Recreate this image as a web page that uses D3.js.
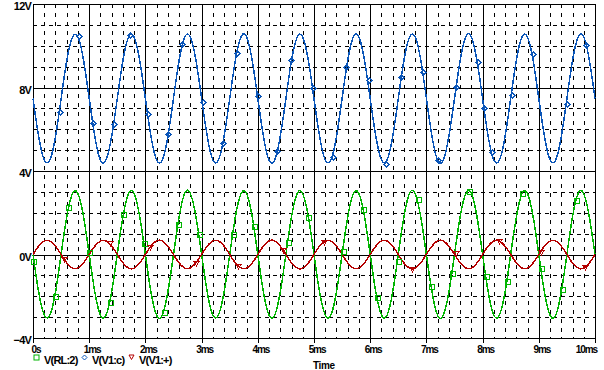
<!DOCTYPE html>
<html>
<head>
<meta charset="utf-8">
<script src="https://cdn.jsdelivr.net/npm/d3@7"></script>
<style>
  html, body { margin: 0; padding: 0; background: #fff; }
  svg { display: block; }
  text { font-family: "Liberation Sans", Arial, sans-serif; font-weight: bold; fill: #000; }
</style>
</head>
<body>
<svg id="chart" width="604" height="370"></svg>
<script>
// sample step of the traces, ms
const step = 1 / 12;

// V(RL:2), volts, one row per ms
const vRL2 = [
  0.00, -1.52, -2.63, -3.04, -2.65, -1.54, 0.01, 1.53, 2.64, 3.06, 2.65, 1.53,
  0.00, -1.53, -2.64, -3.05, -2.64, -1.52, 0.02, 1.54, 2.65, 3.07, 2.64, 1.52,
  -0.01, -1.54, -2.65, -3.06, -2.63, -1.53, 0.00, 1.53, 2.66, 3.08, 2.65, 1.53,
  0.01, -1.52, -2.64, -3.04, -2.64, -1.54, -0.01, 1.52, 2.64, 3.06, 2.66, 1.54,
  0.00, -1.53, -2.65, -3.05, -2.65, -1.53, 0.01, 1.54, 2.65, 3.07, 2.64, 1.53,
  0.00, -1.54, -2.64, -3.06, -2.64, -1.52, 0.00, 1.53, 2.65, 3.06, 2.65, 1.52,
  0.01, -1.53, -2.63, -3.05, -2.65, -1.53, 0.01, 1.54, 2.66, 3.08, 2.64, 1.53,
  -0.01, -1.52, -2.65, -3.06, -2.64, -1.54, 0.00, 1.53, 2.65, 3.07, 2.66, 1.54,
  0.00, -1.54, -2.64, -3.05, -2.63, -1.53, 0.01, 1.52, 2.64, 3.06, 2.65, 1.53,
  0.01, -1.53, -2.65, -3.06, -2.65, -1.52, 0.00, 1.54, 2.66, 3.07, 2.64, 1.52,
  0.00
];

// V(V1:c)
const vV1c = [
  7.47, 5.94, 4.80, 4.39, 4.79, 5.92, 7.46, 9.01, 10.14, 10.55, 10.16, 9.03,
  7.48, 5.93, 4.78, 4.37, 4.80, 5.94, 7.47, 9.02, 10.15, 10.57, 10.14, 9.01,
  7.46, 5.92, 4.79, 4.38, 4.78, 5.93, 7.48, 9.03, 10.16, 10.56, 10.15, 9.02,
  7.47, 5.94, 4.80, 4.38, 4.79, 5.92, 7.46, 9.01, 10.15, 10.58, 10.16, 9.03,
  7.48, 5.93, 4.78, 4.37, 4.80, 5.94, 7.47, 9.02, 10.14, 10.56, 10.15, 9.02,
  7.46, 5.92, 4.79, 4.39, 4.79, 5.93, 7.48, 9.03, 10.16, 10.57, 10.14, 9.01,
  7.47, 5.94, 4.80, 4.38, 4.78, 5.92, 7.47, 9.02, 10.15, 10.56, 10.16, 9.03,
  7.48, 5.93, 4.78, 4.37, 4.80, 5.94, 7.46, 9.01, 10.14, 10.58, 10.15, 9.02,
  7.46, 5.92, 4.79, 4.38, 4.79, 5.93, 7.48, 9.03, 10.16, 10.56, 10.14, 9.01,
  7.47, 5.94, 4.80, 4.39, 4.78, 5.92, 7.47, 9.02, 10.15, 10.57, 10.16, 9.03,
  7.47
];

// V(V1:+)
const vV1p = [
  0.00, 0.34, 0.59, 0.68, 0.59, 0.34, 0.00, -0.34, -0.59, -0.68, -0.59, -0.34,
  0.00, 0.34, 0.58, 0.68, 0.59, 0.34, 0.01, -0.34, -0.59, -0.69, -0.59, -0.34,
  0.00, 0.35, 0.59, 0.69, 0.58, 0.34, 0.00, -0.35, -0.59, -0.68, -0.58, -0.34,
  0.01, 0.34, 0.59, 0.68, 0.59, 0.35, 0.00, -0.34, -0.58, -0.68, -0.59, -0.35,
  0.00, 0.34, 0.59, 0.69, 0.59, 0.34, 0.00, -0.34, -0.59, -0.69, -0.59, -0.34,
  0.00, 0.35, 0.58, 0.68, 0.58, 0.34, 0.01, -0.34, -0.59, -0.68, -0.58, -0.34,
  0.00, 0.34, 0.59, 0.68, 0.59, 0.35, 0.00, -0.35, -0.59, -0.69, -0.59, -0.34,
  0.01, 0.34, 0.59, 0.69, 0.59, 0.34, 0.00, -0.34, -0.58, -0.68, -0.59, -0.35,
  0.00, 0.35, 0.59, 0.68, 0.58, 0.34, 0.00, -0.34, -0.59, -0.68, -0.59, -0.34,
  0.00, 0.34, 0.58, 0.68, 0.59, 0.34, 0.01, -0.35, -0.59, -0.69, -0.58, -0.34,
  0.00
];

// marker points [ms, V] as they sit on the traces
const markRL2 = [[0, -0.31], [0.39, -1.99], [0.62, 2.28], [1.0, 0.12], [1.37, -2.28], [1.6, 1.94],
  [1.98, 0.55], [2.33, -2.75], [2.58, 1.46], [2.95, 0.98], [3.56, 0.98], [3.93, 1.37], [4.54, 0.6],
  [4.89, 1.8], [5.52, 0.17], [5.87, 2.18], [6.12, -2.04], [6.49, -0.31], [6.85, 2.66], [7.08, -1.51],
  [7.46, -0.89], [7.76, 3.04], [8.06, -1.03], [8.43, -1.27], [8.7, 2.95], [9.04, -0.65], [9.41, -1.65],
  [9.66, 2.61]];
const markV1c = [[0.48, 6.83], [0.82, 10.47], [1.07, 6.3], [1.44, 6.25], [1.73, 10.51], [2.05, 6.73],
  [2.4, 5.77], [2.65, 10.08], [3.02, 7.31], [3.38, 5.34], [3.63, 9.65], [4.0, 7.59], [4.34, 4.96],
  [4.59, 9.32], [4.98, 7.98], [5.34, 4.67], [5.57, 8.98], [5.98, 8.36], [6.28, 4.34], [6.55, 8.5],
  [6.94, 8.74], [7.21, 4.53], [7.53, 8.02], [7.92, 9.22], [8.02, 7.02], [8.17, 4.91], [8.52, 7.64],
  [8.9, 9.6], [9.5, 7.21], [9.84, 10.04]];
const markV1p = [[0.55, -0.22], [1.37, 0.55], [2.08, 0.36], [2.9, -0.41], [3.65, -0.55], [4.45, 0.22],
  [5.18, 0.6], [6.74, -0.69], [7.53, 0.07], [8.29, 0.65], [9.04, 0.12], [9.82, -0.6]];

const xTicks = [0, 1, 2, 3, 4, 5, 6, 7, 8, 9, 10];
const xLabels = ["0s", "1ms", "2ms", "3ms", "4ms", "5ms", "6ms", "7ms", "8ms", "9ms", "10ms"];
const yTicks = [-4, 0, 4, 8, 12];
const yLabels = ["\u22124V", "0V", "4V", "8V", "12V"];

const legendNames = ["V(RL:2)", "V(V1:c)", "V(V1:+)"];
const green = "#00b400", blue = "#0a55b8", red = "#b40000";

const svg = d3.select("#chart");
const x = d3.scaleLinear().domain([0, 10]).range([33, 595]);
const y = d3.scaleLinear().domain([-4, 12]).range([338, 4]);

// grid
const grid = svg.append("g").attr("shape-rendering", "crispEdges");
const minorX = d3.range(0, 50).map(i => i / 5).filter(v => Math.abs(v - Math.round(v)) > 1e-6);
const minorY = d3.range(-4, 13).filter(v => v % 4 !== 0);

grid.selectAll(".mx").data(minorX).join("line")
  .attr("x1", d => Math.round(x(d)) + 0.5).attr("x2", d => Math.round(x(d)) + 0.5)
  .attr("y1", y(12)).attr("y2", y(-4))
  .attr("stroke", "#000").attr("stroke-dasharray", "4,5");
grid.selectAll(".my").data(minorY).join("line")
  .attr("x1", x(0)).attr("x2", x(10))
  .attr("y1", d => Math.round(y(d)) + 0.5).attr("y2", d => Math.round(y(d)) + 0.5)
  .attr("stroke", "#000").attr("stroke-dasharray", "4,4");
grid.selectAll(".Mx").data(xTicks).join("line")
  .attr("x1", d => Math.round(x(d)) + 0.5).attr("x2", d => Math.round(x(d)) + 0.5)
  .attr("y1", y(12)).attr("y2", y(-4) + 5)
  .attr("stroke", "#000");
grid.selectAll(".My").data(yTicks).join("line")
  .attr("x1", x(0)).attr("x2", x(10) + 1)
  .attr("y1", d => Math.round(y(d)) + 0.5).attr("y2", d => Math.round(y(d)) + 0.5)
  .attr("stroke", "#000");

// tick labels
svg.append("g").selectAll("text").data(yTicks).join("text")
  .attr("x", 31).attr("y", d => Math.round(y(d)) + 6)
  .attr("text-anchor", "end").attr("font-size", 11).attr("letter-spacing", -0.8)
  .text((d, i) => yLabels[i]);
svg.append("g").selectAll("text").data(xTicks).join("text")
  .attr("x", d => d === 10 ? x(d) + 2 : x(d) + 3)
  .attr("y", 353)
  .attr("text-anchor", d => d === 10 ? "end" : "middle")
  .attr("font-size", 10).attr("letter-spacing", -1.1)
  .text((d, i) => xLabels[i]);
svg.append("text").attr("x", 313).attr("y", 369).attr("font-size", 10)
  .attr("letter-spacing", -0.4).text("Time");

// traces
const line = d3.line().x((d, i) => x(i * step)).y(d => y(d)).curve(d3.curveNatural);
const traces = [[vRL2, green], [vV1c, blue], [vV1p, red]];
svg.append("g").selectAll("path").data(traces).join("path")
  .attr("d", d => line(d[0]))
  .attr("fill", "none").attr("stroke", d => d[1]).attr("stroke-width", 1.5)
  .attr("shape-rendering", "crispEdges");

// markers
const square = (g, px, py) => g.append("rect").attr("x", px - 2.5).attr("y", py - 2.5)
  .attr("width", 5).attr("height", 5).attr("fill", "none").attr("stroke", green);
const diamond = (g, px, py) => g.append("path")
  .attr("d", `M${px},${py - 2.5}L${px + 2.5},${py}L${px},${py + 2.5}L${px - 2.5},${py}Z`)
  .attr("fill", "none").attr("stroke", blue);
const tri = (g, px, py) => g.append("path")
  .attr("d", `M${px - 2.5},${py - 2}L${px + 2.5},${py - 2}L${px},${py + 2.5}Z`)
  .attr("fill", "none").attr("stroke", red).attr("stroke-width", 1);

const mk = svg.append("g").attr("shape-rendering", "crispEdges");
markRL2.forEach(d => square(mk, Math.round(x(d[0])) + 0.5, Math.round(y(d[1])) + 0.5));
markV1c.forEach(d => diamond(mk, Math.round(x(d[0])) + 0.5, Math.round(y(d[1])) + 0.5));
markV1p.forEach(d => tri(mk, Math.round(x(d[0])) + 0.5, Math.round(y(d[1])) + 0.5));

// legend
const lg = svg.append("g");
square(lg, 36.5, 357.5);
diamond(lg, 84.5, 357.5);
tri(lg, 131.5, 357);
const legX = [44, 92, 139];
lg.selectAll("text").data(legendNames).join("text")
  .attr("x", (d, i) => legX[i]).attr("y", 364).attr("font-size", 11).attr("letter-spacing", -0.8)
  .text(d => d);
</script>
</body>
</html>
